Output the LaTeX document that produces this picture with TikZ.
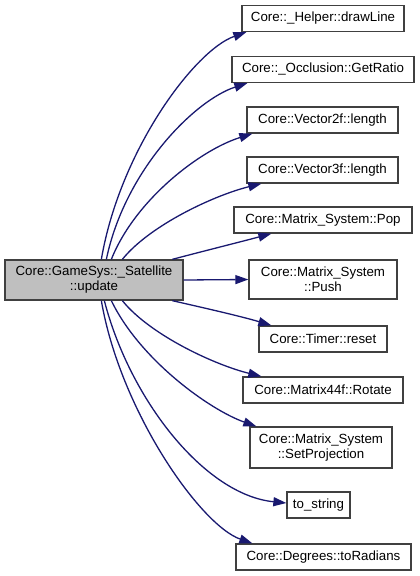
\documentclass[tikz,border=0pt]{standalone}
\usepackage{fontspec}
\setmainfont{Liberation Sans}
\usetikzlibrary{arrows.meta}
\definecolor{edgeblue}{HTML}{191970}
\definecolor{boxgray}{HTML}{404040}
\definecolor{mainfill}{HTML}{BFBFBF}
\begin{document}
\begin{tikzpicture}[x=1pt,y=-1pt,
  fn/.style={draw=boxgray, line width=1.3pt, fill=white, inner sep=0pt, align=center,
    font=\fontsize{13.3}{15}\selectfont, minimum height=26pt},
  mainfn/.style={fn, fill=mainfill},
  edge/.style={draw=edgeblue, line width=1.3pt, -{Triangle[length=13pt,width=9pt]}}]
\useasboundingbox (0,0) rectangle (420,576);
\node[mainfn, minimum width=178pt, minimum height=40pt] (main) at (94,280) {Core::GameSys::\_Satellite\\::update};
\node[fn, minimum width=162pt] (dl) at (323,18.5) {Core::\_Helper::drawLine};
\node[fn, minimum width=182pt] (gr) at (323,69.5) {Core::\_Occlusion::GetRatio};
\node[fn, minimum width=151pt] (v2) at (322.5,120) {Core::Vector2f::length};
\node[fn, minimum width=151pt] (v3) at (322.5,170) {Core::Vector3f::length};
\node[fn, minimum width=178pt] (pop) at (323,220) {Core::Matrix\_System::Pop};
\node[fn, minimum width=148pt, minimum height=39pt] (push) at (323,279.5) {Core::Matrix\_System\\::Push};
\node[fn, minimum width=128pt] (tim) at (323,339) {Core::Timer::reset};
\node[fn, minimum width=160pt] (rot) at (323,390) {Core::Matrix44f::Rotate};
\node[fn, minimum width=142pt, minimum height=41pt] (sp) at (321,447.5) {Core::Matrix\_System\\::SetProjection};
\node[fn, minimum width=63pt] (ts) at (318.5,505) {to\_string};
\node[fn, minimum width=175pt] (tr) at (323.5,557) {Core::Degrees::toRadians};

\draw[edge] ([xshift=97pt]main.north west) .. controls (120,150) and (195,50) .. ([xshift=5pt]dl.south west);
\draw[edge] ([xshift=102pt]main.north west) .. controls (125,170) and (195,100) .. ([xshift=16pt]gr.south west);
\draw[edge] ([xshift=107pt]main.north west) .. controls (135,200) and (200,150) .. ([xshift=6pt]v2.south west);
\draw[edge] ([xshift=118pt]main.north west) .. controls (150,225) and (215,195) .. ([xshift=15pt]v3.south west);
\draw[edge] ([xshift=168pt]main.north west) .. controls (200,252) and (240,242) .. ([xshift=38pt]pop.south west);
\draw[edge] (main.east) -- (push.west);
\draw[edge] ([xshift=168pt]main.south west) .. controls (200,307) and (240,316) .. ([xshift=13pt]tim.north west);
\draw[edge] ([xshift=118pt]main.south west) .. controls (150,335) and (215,365) .. ([xshift=19pt]rot.north west);
\draw[edge] ([xshift=107pt]main.south west) .. controls (140,360) and (210,410) .. ([xshift=7pt]sp.north west);
\draw[edge] ([xshift=100pt]main.south west) .. controls (130,400) and (205,495) .. ([yshift=2pt]ts.west);
\draw[edge] ([xshift=97pt]main.south west) .. controls (120,410) and (200,525) .. ([xshift=17pt]tr.north west);
\end{tikzpicture}
\end{document}
